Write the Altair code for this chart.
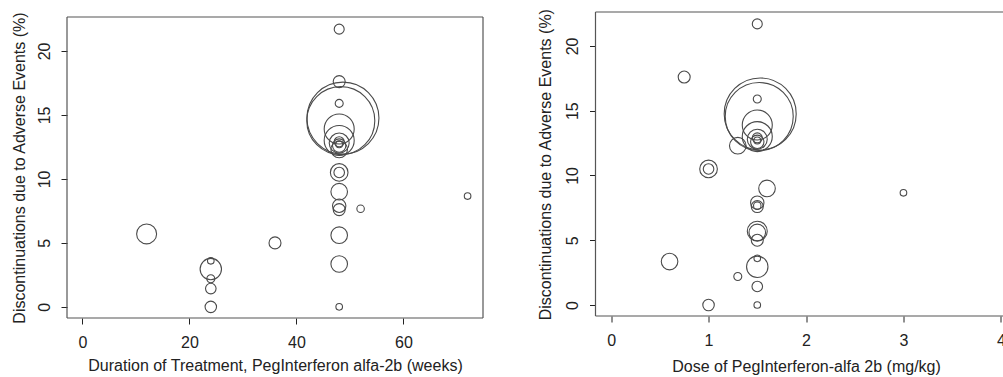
import altair as alt
import pandas as pd

# ---- data (one row per study arm) ----
duration_weeks = [48, 48, 48, 48.7, 48.3, 48, 48, 48, 48, 48, 48, 48, 48, 48, 48,
                  48, 48, 52, 72, 12, 48, 36, 24, 48, 24, 24, 24, 24, 48]
dose_mgkg = [1.5, 0.75, 1.5, 1.53, 1.52, 1.5, 1.5, 1.5, 1.5, 1.5, 1.5, 1.3, 1.0, 1.0, 1.6,
             1.5, 1.5, 1.5, 3.0, 1.5, 1.5, 1.5, 1.5, 0.6, 1.5, 1.3, 1.5, 1.0, 1.5]
discontinuation_pct = [21.7, 17.6, 15.9, 14.75, 14.55, 13.9, 13.0, 12.8, 12.6, 12.9, 12.7,
                       12.3, 10.5, 10.5, 9.0, 7.9, 7.6, 7.67, 8.66, 5.7, 5.6, 5.0, 3.6,
                       3.35, 2.95, 2.2, 1.43, 0.0, 0.0]
patients = [25, 36, 16, 1300, 1160, 226, 226, 100, 45, 25, 12, 69, 78, 28, 69,
            45, 36, 14, 11, 100, 69, 36, 11, 69, 115, 16, 28, 33, 11]

df = pd.DataFrame({
    "duration": duration_weeks,
    "dose": dose_mgkg,
    "discont": discontinuation_pct,
    "n": patients,
})

FONT = "Liberation Sans"
INK = "#222222"
CIRCLE = "#4a4a4a"
FRAME = "#555555"

# plot-region limits (R style, 4% extension)
L_X = [-2.88, 74.88]
L_FRAME_Y = [-0.87, 22.65]
L_VIEW_Y = [-0.87, 23.04]
R_X = [-0.16, 4.16]
R_FRAME_Y = [-0.85, 22.62]
R_VIEW_Y = [-1.004, 22.62]

size_scale = alt.Scale(type="linear", domain=[0, 1300], range=[0, 5184], zero=True)

common_axis = dict(domain=False, grid=False, ticks=True, tickSize=6, tickColor=INK,
                   tickWidth=1, labelFont=FONT, labelFontSize=16, labelColor=INK,
                   titleFont=FONT, titleFontSize=16, titleColor=INK,
                   titleFontWeight="normal")

Y_TITLE = "Discontinuations due to Adverse Events (%)"


def panel(xfield, xdom, xticks, xtitle, ydom, frame_y, width, height,
          x_offset, x_title_y, y_title_x, y_title_y, right_side):
    x_axis = alt.Axis(values=xticks, title=xtitle, labelAngle=0, labelPadding=23,
                      labelBaseline="alphabetic", labelAlign="center",
                      titleBaseline="alphabetic", titleAlign="center",
                      titleX=width / 2, titleY=x_title_y, offset=x_offset,
                      format="d", **common_axis)
    y_axis = alt.Axis(values=[0, 5, 10, 15, 20], title=Y_TITLE, labelAngle=270,
                      labelPadding=12, labelBaseline="alphabetic", labelAlign="center",
                      titleAngle=270, titleBaseline="alphabetic", titleAlign="center",
                      titleX=y_title_x, titleY=y_title_y, format="d", **common_axis)
    xs = alt.Scale(domain=xdom, nice=False, zero=False)
    ys = alt.Scale(domain=ydom, nice=False, zero=False)
    one = pd.DataFrame({"k": [0]})

    def hline(yv):
        return alt.Chart(one).mark_rule(color=FRAME, strokeWidth=1.2).encode(
            x=alt.X(datum=xdom[0], scale=xs, axis=x_axis, title=xtitle),
            x2=alt.X2(datum=xdom[1]),
            y=alt.Y(datum=yv, scale=ys, axis=y_axis, title=Y_TITLE),
        )

    def vline(xv):
        return alt.Chart(one).mark_rule(color=FRAME, strokeWidth=1.2).encode(
            x=alt.X(datum=xv, scale=xs, axis=x_axis, title=xtitle),
            y=alt.Y(datum=frame_y[0], scale=ys, axis=y_axis, title=Y_TITLE),
            y2=alt.Y2(datum=frame_y[1]),
        )

    layers = [hline(frame_y[0]), hline(frame_y[1]), vline(xdom[0])]
    if right_side:
        layers.append(vline(xdom[1]))

    circles = alt.Chart(df).mark_point(shape="circle", filled=False, color=CIRCLE,
                                       strokeWidth=1.1, opacity=1).encode(
        x=alt.X(f"{xfield}:Q", scale=xs, axis=x_axis, title=xtitle),
        y=alt.Y("discont:Q", scale=ys, axis=y_axis, title=Y_TITLE),
        size=alt.Size("n:Q", scale=size_scale, legend=None),
    )
    layers.append(circles)
    return alt.layer(*layers).properties(width=width, height=height)


left = panel("duration", L_X, [0, 20, 40, 60],
             "Duration of Treatment, PegInterferon alfa-2b (weeks)",
             L_VIEW_Y, L_FRAME_Y, 416, 306, 0, 52.2, -43, 155.5, True)
right = panel("dose", R_X, [0, 1, 2, 3, 4],
              "Dose of PegInterferon-alfa 2b (mg/kg)",
              R_VIEW_Y, R_FRAME_Y, 421, 306, -2, 55.5, -44.7, 152.2, False)

chart = alt.hconcat(left, right, spacing=112.5, bounds="flush").properties(
    autosize=alt.AutoSizeParams(type="none"),
    padding={"left": 67, "top": 12, "right": 936, "bottom": 365},
    background="white",
).configure_view(stroke="transparent")

chart.save("out.html", embed_options={"renderer": "svg", "actions": False})
